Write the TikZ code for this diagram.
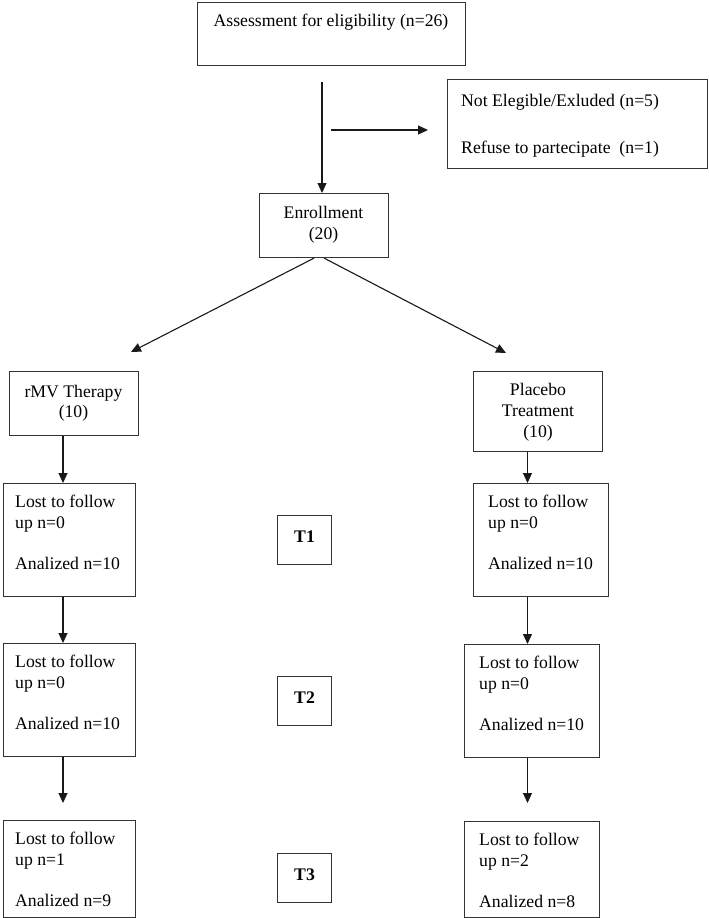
\documentclass[tikz,border=0pt]{standalone}
\usepackage{fontspec}
\setmainfont{Liberation Serif}
\usetikzlibrary{arrows.meta}
\begin{document}
\begin{tikzpicture}[x=1pt,y=-1pt,
  bx/.style={draw=black!80, line width=1.1pt, rectangle, inner sep=0pt, anchor=north west},
  txt/.style={inner sep=0pt, font=\fontsize{17.7}{20.7}\selectfont},
  arr/.style={draw=black!90, line width=1.1pt, -{Triangle[length=10pt,width=9pt]}},
  tbox/.style={bx, minimum width=54pt, minimum height=49pt, font=\bfseries\fontsize{17.7}{20.7}\selectfont, text height=12pt, text depth=7.6pt}]
\useasboundingbox (0,0) rectangle (709,918);

% boxes
\node[bx, minimum width=268pt, minimum height=63pt] (A) at (197,2) {};
\node[txt, anchor=base] (At) at (331,26) {Assessment for eligibility (n=26)};

\node[bx, minimum width=260pt, minimum height=89pt] (N) at (447,79) {};
\node[txt, anchor=north west, align=left] (Nt) at (461,93.9) {Not Elegible/Exluded (n=5)\\[26.3pt]Refuse to partecipate\ \ (n=1)};

\node[bx, minimum width=129pt, minimum height=64pt] (E) at (259,193) {};
\node[txt, anchor=north, align=center] (Et) at (323.5,205.9) {Enrollment\\(20)};

\node[bx, minimum width=129pt, minimum height=64pt] (R) at (9,371) {};
\node[txt, anchor=north, align=center] (Rt) at (73.5,384.6) {rMV Therapy\\(10)};

\node[bx, minimum width=129pt, minimum height=80pt] (P) at (473,371) {};
\node[txt, anchor=north, align=center] (Pt) at (538,383.4) {Placebo\\Treatment\\(10)};

\node[bx, minimum width=132pt, minimum height=113pt] (L1) at (3,483) {};
\node[txt, anchor=north west, align=left] (L1t) at (15,494.9) {Lost to follow\\up n=0\\[20.7pt]Analized n=10};
\node[bx, minimum width=132pt, minimum height=113pt] (L2) at (3,643) {};
\node[txt, anchor=north west, align=left] (L2t) at (15,654.9) {Lost to follow\\up n=0\\[20.7pt]Analized n=10};
\node[bx, minimum width=132pt, minimum height=97pt] (L3) at (3,820) {};
\node[txt, anchor=north west, align=left] (L3t) at (15,831.9) {Lost to follow\\up n=1\\[20.7pt]Analized n=9};

\node[bx, minimum width=135pt, minimum height=113pt] (PL1) at (473,483) {};
\node[txt, anchor=north west, align=left] (PL1t) at (488,494.9) {Lost to follow\\up n=0\\[20.7pt]Analized n=10};
\node[bx, minimum width=135pt, minimum height=113pt] (PL2) at (464,644) {};
\node[txt, anchor=north west, align=left] (PL2t) at (479,655.9) {Lost to follow\\up n=0\\[20.7pt]Analized n=10};
\node[bx, minimum width=135pt, minimum height=96pt] (PL3) at (464,821) {};
\node[txt, anchor=north west, align=left] (PL3t) at (479,832.9) {Lost to follow\\up n=2\\[20.7pt]Analized n=8};

\node[tbox] (T1) at (277,515) {T1};
\node[tbox] (T2) at (277,676) {T2};
\node[tbox] (T3) at (277,853) {T3};

% connectors
\coordinate (a1) at (322,82);
\draw[arr] (a1) -- (a1 |- E.north);
\coordinate (h1) at (331,130);
\coordinate (h2) at (428,130);
\draw[arr] (h1) -- (h2);
\coordinate (dl) at (131,352);
\coordinate (dr) at (506,353);
\draw[arr] ([xshift=-10pt]E.south) -- (dl);
\draw[arr] (E.south) -- (dr);

\coordinate (lx) at (63,0);
\coordinate (rx) at (527.5,0);
\draw[arr] (lx |- R.south) -- (lx |- L1.north);
\draw[arr] (lx |- L1.south) -- (lx |- L2.north);
\coordinate (le) at (63,803);
\draw[arr] (lx |- L2.south) -- (le);
\draw[arr] (rx |- P.south) -- (rx |- PL1.north);
\draw[arr] (rx |- PL1.south) -- (rx |- PL2.north);
\coordinate (re) at (527.5,803);
\draw[arr] (rx |- PL2.south) -- (re);
\end{tikzpicture}
\end{document}
